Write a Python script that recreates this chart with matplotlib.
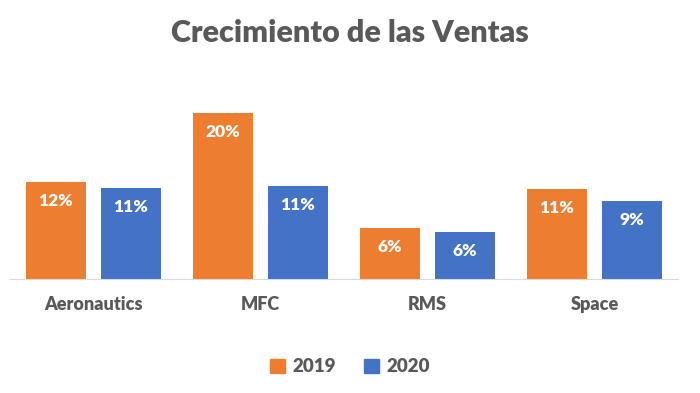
import numpy as np
import matplotlib.pyplot as plt
from matplotlib.patches import Patch

# datos
categorias = ['Aeronautics', 'MFC', 'RMS', 'Space']
ventas_2019 = [11.7, 20.0, 6.1, 10.8]
ventas_2020 = [11.0, 11.2, 5.7, 9.4]
series = ['2019', '2020']

naranja = '#ED7D31'
azul = '#4472C4'
gris = '#595959'

plt.rcParams['font.family'] = ['Lato', 'DejaVu Sans']

fig = plt.figure(figsize=(7, 3.93), dpi=100)
ax = fig.add_axes([10/700, 114/393, 668/700, 189/393])

x = np.arange(len(categorias))
ancho = 0.36
sep = 0.045
b1 = ax.bar(x - ancho/2 - sep, ventas_2019, ancho, color=naranja)
b2 = ax.bar(x + ancho/2 + sep, ventas_2020, ancho, color=azul)

for barras in (b1, b2):
    for b in barras:
        v = b.get_height()
        ax.annotate(f'{v:.0f}%', (b.get_x() + b.get_width()/2, v),
                    xytext=(0, -13.5), textcoords='offset points',
                    ha='center', va='center', color='white',
                    fontsize=12.5, fontweight='heavy')

ax.set_xlim(-0.5, len(categorias) - 0.5)
ax.set_ylim(0, 22.8)
ax.set_yticks([])
ax.set_xticks(x)
ax.set_xticklabels(categorias, fontsize=13, fontweight='heavy', color=gris)
ax.tick_params(axis='x', length=0, pad=12)
for s in ['top', 'right', 'left']:
    ax.spines[s].set_visible(False)
ax.spines['bottom'].set_color('#D9D9D9')

fig.text(0.5, 1 - 33/393, 'Crecimiento de las Ventas', ha='center', va='center',
         fontsize=22, fontweight='heavy', color=gris)

handles = [Patch(color=naranja, label=series[0]), Patch(color=azul, label=series[1])]
fig.legend(handles=handles, loc='center', bbox_to_anchor=(0.5, 1 - 367/393),
           ncol=2, frameon=False, handlelength=0.8, handleheight=0.8,
           handletextpad=0.4, columnspacing=1.5,
           prop={'size': 13.5, 'weight': 'heavy'}, labelcolor=gris)

fig.savefig('out.png', dpi=100)
